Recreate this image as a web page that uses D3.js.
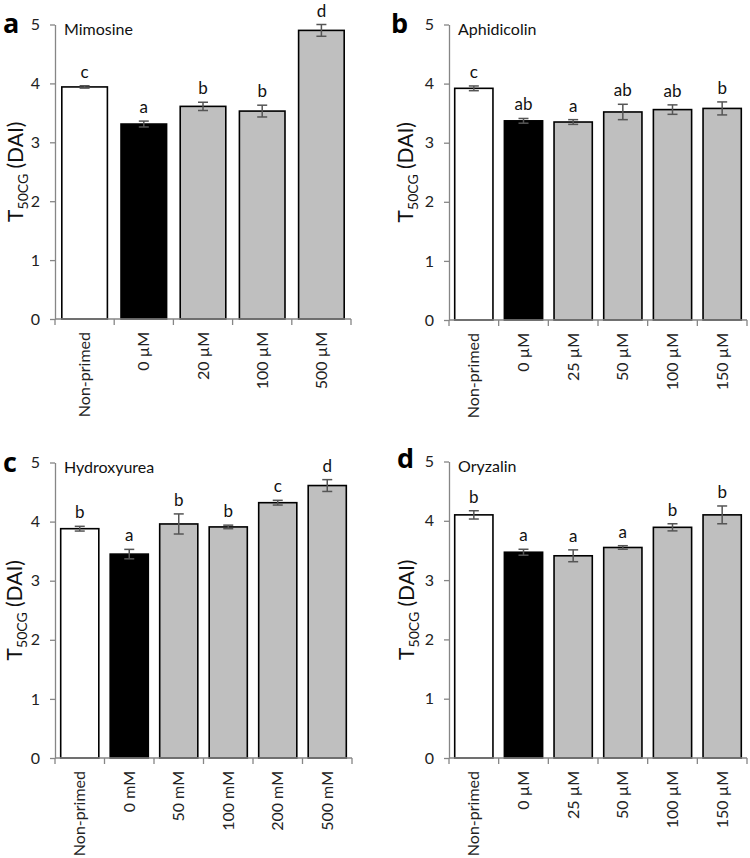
<!DOCTYPE html>
<html><head><meta charset="utf-8">
<script src="https://cdn.jsdelivr.net/npm/d3@7/dist/d3.min.js"></script>
<style>body{margin:0;background:#fff} text{font-family:Lato,"Open Sans",sans-serif}</style>
</head><body>
<svg id="chart" width="750" height="858"></svg>
<script>
// ---- data ----
const panelLetters = ["a","b","c","d"];
const panelTitles = ["Mimosine","Aphidicolin","Hydroxyurea","Oryzalin"];

const mimosineCategories = ["Non-primed","0 µM","20 µM","100 µM","500 µM"];
const mimosineValues = [3.94,3.31,3.61,3.53,4.90];
const mimosineErrors = [0.02,0.05,0.07,0.10,0.10];
const mimosineGroups = ["c","a","b","b","d"];

const aphidicolinCategories = ["Non-primed","0 µM","25 µM","50 µM","100 µM","150 µM"];
const aphidicolinValues = [3.92,3.37,3.35,3.52,3.56,3.58];
const aphidicolinErrors = [0.04,0.04,0.04,0.13,0.08,0.11];
const aphidicolinGroups = ["c","ab","a","ab","ab","b"];

const hydroxyureaCategories = ["Non-primed","0 mM","50 mM","100 mM","200 mM","500 mM"];
const hydroxyureaValues = [3.88,3.45,3.96,3.91,4.32,4.61];
const hydroxyureaErrors = [0.04,0.08,0.17,0.03,0.04,0.10];
const hydroxyureaGroups = ["b","a","b","b","c","d"];

const oryzalinCategories = ["Non-primed","0 µM","25 µM","50 µM","100 µM","150 µM"];
const oryzalinValues = [4.10,3.47,3.41,3.55,3.89,4.10];
const oryzalinErrors = [0.07,0.05,0.10,0.03,0.06,0.15];
const oryzalinGroups = ["b","a","a","a","b","b"];

const yTickValues = [0,1,2,3,4,5];
const yDomain = [0,5];

// ---- layout ----
const layouts = [
  {x0:55, x1:351, yTop:24.5, yBot:319, letterX:3, letterY:33, labelX:23},
  {x0:449, x1:747, yTop:24.5, yBot:320, letterX:391, letterY:33, labelX:413},
  {x0:55, x1:352, yTop:462.5, yBot:758, letterX:3, letterY:472, labelX:22},
  {x0:449, x1:747, yTop:461.5, yBot:758, letterX:397, letterY:468, labelX:414}
];
const datasets = [
  {cats:mimosineCategories, vals:mimosineValues, errs:mimosineErrors, groups:mimosineGroups},
  {cats:aphidicolinCategories, vals:aphidicolinValues, errs:aphidicolinErrors, groups:aphidicolinGroups},
  {cats:hydroxyureaCategories, vals:hydroxyureaValues, errs:hydroxyureaErrors, groups:hydroxyureaGroups},
  {cats:oryzalinCategories, vals:oryzalinValues, errs:oryzalinErrors, groups:oryzalinGroups}
];
const fillFor = i => i===0 ? "#ffffff" : (i===1 ? "#000000" : "#bfbfbf");
const axisColor = "#868686";

const svg = d3.select("#chart");

datasets.forEach((ds, p) => {
  const L = layouts[p];
  const g = svg.append("g");
  const x = d3.scaleBand().domain(ds.cats).range([L.x0, L.x1]).paddingInner(0.23).paddingOuter(0.115);
  const y = d3.scaleLinear().domain(yDomain).range([L.yBot, L.yTop]);

  // bars
  g.selectAll("rect.bar").data(ds.cats).enter().append("rect")
    .attr("x", d => x(d)).attr("width", x.bandwidth())
    .attr("y", (d,i) => y(ds.vals[i])).attr("height", (d,i) => y(0) - y(ds.vals[i]))
    .attr("fill", (d,i) => fillFor(i))
    .attr("stroke", "#000").attr("stroke-width", 1.6);

  // y axis
  const yAxis = g.append("g").attr("transform", `translate(${L.x0},0)`)
    .call(d3.axisLeft(y).tickValues(yTickValues).tickFormat(d3.format("d")).tickSize(5).tickSizeOuter(0).tickPadding(10));
  yAxis.select(".domain").attr("stroke", axisColor).attr("stroke-width", 1.3);
  yAxis.selectAll(".tick line").attr("stroke", axisColor).attr("stroke-width", 1.3);
  yAxis.selectAll(".tick text").attr("font-size", 16).attr("fill", "#222").style("font-family","Lato");

  // x axis (ticks at band boundaries)
  const xAxisG = g.append("g").attr("transform", `translate(0,${L.yBot})`);
  xAxisG.append("line").attr("x1", L.x0).attr("x2", L.x1).attr("y1", 0).attr("y2", 0)
    .attr("stroke", axisColor).attr("stroke-width", 1.3);
  const step = x.step();
  const boundaries = ds.cats.map(c => x(c) - step*0.115).concat([L.x1]);
  xAxisG.selectAll("line.tk").data(boundaries).enter().append("line")
    .attr("x1", d => d).attr("x2", d => d).attr("y1", 0).attr("y2", 6)
    .attr("stroke", axisColor).attr("stroke-width", 1.3);
  xAxisG.selectAll("text.cat").data(ds.cats).enter().append("text")
    .attr("transform", d => `translate(${x(d) + x.bandwidth()/2 + 5.5},13) rotate(-90)`)
    .attr("text-anchor", "end").attr("font-size", 16).attr("fill", "#222")
    .text(d => d);

  // error bars
  const eb = g.selectAll("g.err").data(ds.cats).enter().append("g");
  const cx = d => x(d) + x.bandwidth()/2;
  eb.append("line").attr("x1", cx).attr("x2", cx)
    .attr("y1", (d,i) => y(ds.vals[i] - ds.errs[i])).attr("y2", (d,i) => y(ds.vals[i] + ds.errs[i]))
    .attr("stroke", "#555").attr("stroke-width", 1.5);
  [-1, 1].forEach(s => {
    eb.append("line").attr("x1", d => cx(d) - 5).attr("x2", d => cx(d) + 5)
      .attr("y1", (d,i) => y(ds.vals[i] + s*ds.errs[i])).attr("y2", (d,i) => y(ds.vals[i] + s*ds.errs[i]))
      .attr("stroke", "#555").attr("stroke-width", 1.5);
  });

  // significance letters
  g.selectAll("text.sig").data(ds.cats).enter().append("text")
    .attr("x", cx).attr("y", (d,i) => y(ds.vals[i] + ds.errs[i]) - 8)
    .attr("text-anchor", "middle").attr("font-size", 17).attr("fill", "#111")
    .text((d,i) => ds.groups[i]);

  // title
  g.append("text").attr("x", L.x0 + 9).attr("y", L.yTop + 10.5)
    .attr("font-size", 16).attr("fill", "#111").text(panelTitles[p]);

  // panel letter
  g.append("text").attr("x", L.letterX).attr("y", L.letterY)
    .attr("font-size", 27).attr("font-weight", "bold").attr("fill", "#000")
    .style("font-family", "'Open Sans',Lato,sans-serif").text(panelLetters[p]);

  // y label
  const yl = g.append("text")
    .attr("transform", `translate(${L.labelX},${(L.yTop + L.yBot)/2}) rotate(-90)`)
    .attr("text-anchor", "middle").attr("font-size", 21).attr("fill", "#111");
  yl.append("tspan").text("T");
  yl.append("tspan").attr("font-size", 14).attr("dy", 5).text("50CG");
  yl.append("tspan").attr("dy", -5).text(" (DAI)");
});
</script>
</body></html>
